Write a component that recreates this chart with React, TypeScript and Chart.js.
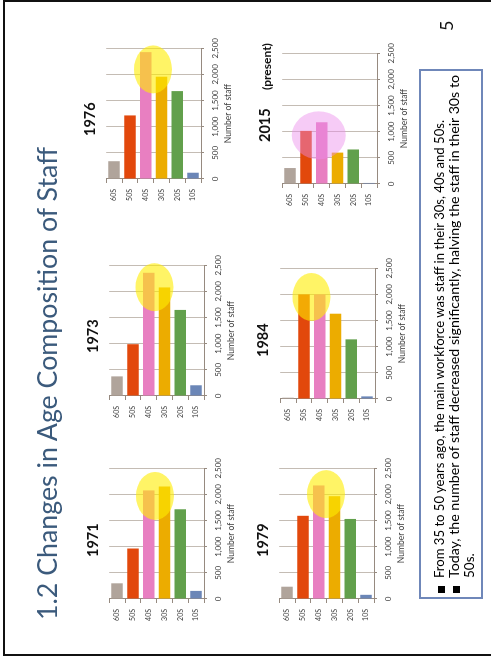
import React, { useEffect, useRef } from "react";
import { Chart, registerables } from "chart.js";

Chart.register(...registerables);

// ---------- data ----------
const categories = ["60S", "50S", "40S", "30S", "20S", "10S"];
const chartTitles = ["1971", "1973", "1976", "1979", "1984", "2015"];
const staff1971 = [300, 965, 2075, 2150, 1715, 155];
const staff1973 = [375, 990, 2355, 2075, 1645, 205];
const staff1976 = [340, 1215, 2425, 1955, 1680, 120];
const staff1979 = [235, 1590, 2170, 1965, 1530, 80];
const staff1984 = [25, 2000, 2000, 1630, 1140, 50];
const staff2015 = [305, 1015, 1180, 600, 660, 20];
const valueTicks = [0, 500, 1000, 1500, 2000, 2500];
// highlight ellipse centres (value, category index)
const highlightValues = [1970, 2080, 2095, 2005, 1950, 930];
const highlightCategories = [2.4, 2.37, 2.46, 2.46, 1.48, 1.82];

const slideTitle = "1.2 Changes in Age Composition of Staff";
const axisTitle = "Number of staff";
const presentLabel = "(present)";
const bulletLines = [
  "From 35 to 50 years ago, the main workforce was staff in their 30s, 40s and 50s.",
  "Today, the number of staff decreased significantly, halving the staff in their 30s to",
  "50s.",
];
const pageNumber = "5";

// ---------- styles ----------
const barColors = ["#b0a49b", "#e2480c", "#e87fc1", "#ecac00", "#62a04c", "#6b86b7"];
const GRID = "rgb(196,188,180)";
const AXIS = "rgb(150,138,128)";
const LABEL = "#404040";
const FONT = "Lato, 'Open Sans', sans-serif";

const PL = 2, YW = 30, PW = 134, PR = 14, PT = 6, PH = 99, XH = 36, PB = 2;
const CW = PL + YW + PW + PR;
const CH = PT + PH + XH + PB;

const ellipsePlugin = {
  id: "highlightEllipse",
  afterDatasetsDraw(chart: any) {
    const o = chart.options.plugins.highlightEllipse;
    if (!o) return;
    const { ctx } = chart;
    const cx = chart.scales.x.getPixelForValue(o.value);
    const cy = chart.scales.y.getPixelForValue(o.category);
    ctx.save();
    ctx.beginPath();
    ctx.ellipse(cx, cy, o.rx, o.ry, 0, 0, Math.PI * 2);
    ctx.fillStyle = o.color;
    ctx.fill();
    ctx.restore();
  },
};

type PanelProps = {
  values: number[];
  index: number;
  left: number;
  top: number;
  pink?: boolean;
};

function Panel({ values, index, left, top, pink }: PanelProps) {
  const ref = useRef<HTMLCanvasElement>(null);
  useEffect(() => {
    const chart = new Chart(ref.current as HTMLCanvasElement, {
      type: "bar",
      data: {
        labels: categories,
        datasets: [
          {
            data: values,
            backgroundColor: barColors,
            barPercentage: 0.73,
            categoryPercentage: 1,
          },
        ],
      },
      options: {
        indexAxis: "y",
        responsive: false,
        animation: false,
        locale: "en-US",
        devicePixelRatio: 1,
        layout: { padding: { left: PL, right: PR, top: PT, bottom: PB } },
        plugins: {
          legend: { display: false },
          tooltip: { enabled: false },
          highlightEllipse: {
            value: highlightValues[index],
            category: highlightCategories[index],
            rx: 24,
            ry: pink ? 27 : 19,
            color: pink ? "rgba(236,140,236,0.45)" : "rgba(255,236,0,0.6)",
          },
        } as any,
        scales: {
          x: {
            min: valueTicks[0],
            max: valueTicks[valueTicks.length - 1],
            afterBuildTicks: (s: any) => {
              s.ticks = valueTicks.map((v) => ({ value: v }));
            },
            ticks: {
              font: { family: FONT, size: 8 },
              color: LABEL,
              padding: 7,
              maxRotation: 0,
              autoSkip: false,
              callback: (v: any) => Number(v).toLocaleString("en-US"),
            },
            grid: {
              color: (c: any) => (c.tick && c.tick.value === 0 ? AXIS : GRID),
              tickColor: AXIS,
              tickLength: 3,
              lineWidth: 1,
            },
            border: { color: AXIS, width: 1 },
            title: {
              display: true,
              text: axisTitle,
              font: { family: FONT, size: 8.5 },
              color: LABEL,
              padding: { top: 0, bottom: 4 },
            },
            afterFit: (s: any) => {
              s.height = XH;
            },
          },
          y: {
            ticks: {
              font: { family: FONT, size: 7 },
              color: LABEL,
              padding: 6,
              autoSkip: false,
            },
            grid: {
              drawOnChartArea: false,
              tickLength: 4,
              color: AXIS,
              offset: true,
            },
            border: { color: AXIS, width: 1 },
            afterFit: (s: any) => {
              s.width = YW;
            },
          },
        },
      } as any,
      plugins: [ellipsePlugin],
    });
    return () => chart.destroy();
  }, []);
  return (
    <canvas
      ref={ref}
      width={CW}
      height={CH}
      style={{
        position: "absolute",
        left: Math.round(left - PL - YW),
        top: Math.round(top - PT),
        width: CW,
        height: CH,
      }}
    />
  );
}

const panels = [
  { values: staff1971, x0: 60, yTop: 105, tx: 102, ty: 98 },
  { values: staff1973, x0: 263, yTop: 105, tx: 306, ty: 98 },
  { values: staff1976, x0: 480, yTop: 102, tx: 523, ty: 95 },
  { values: staff1979, x0: 60, yTop: 275, tx: 102, ty: 268 },
  { values: staff1984, x0: 260, yTop: 276, tx: 302, ty: 268 },
  { values: staff2015, x0: 475, yTop: 278, tx: 517, ty: 270 },
];

export default function App() {
  return (
    <div
      style={{
        position: "fixed",
        left: 0,
        top: 0,
        width: 491,
        height: 659,
        overflow: "hidden",
        background: "#fff",
      }}
    >
      <div
        style={{
          position: "absolute",
          left: 0,
          top: 0,
          width: 659,
          height: 491,
          transformOrigin: "0 0",
          transform: "translate(0px, 659px) rotate(-90deg)",
          background: "#fff",
        }}
      >
        <div
          style={{
            position: "absolute",
            left: 3,
            top: 3,
            width: 656,
            height: 560,
            boxSizing: "border-box",
            border: "2px solid #111",
          }}
        />
        {panels.map((p, i) => (
          <Panel
            key={i}
            index={i}
            values={p.values}
            left={p.x0}
            top={p.yTop}
            pink={i === 5}
          />
        ))}
        <svg
          width={659}
          height={491}
          style={{ position: "absolute", left: 0, top: 0, pointerEvents: "none" }}
        >
          <text
            x={39}
            y={57}
            fontFamily={FONT}
            fontSize={26}
            fill="#3b5a7c"
            textLength={473}
            lengthAdjust="spacingAndGlyphs"
          >
            {slideTitle}
          </text>
          {panels.map((p, i) => (
            <text
              key={i}
              x={p.tx}
              y={p.ty}
              fontFamily={FONT}
              fontWeight="bold"
              fontSize={14.5}
              fill="#111"
            >
              {chartTitles[i]}
            </text>
          ))}
          <text x={569} y={271} fontFamily={FONT} fontWeight="bold" fontSize={12} fill="#111">
            {presentLabel}
          </text>
          <text x={628} y={453} fontFamily={FONT} fontSize={18} fill="#111">
            {pageNumber}
          </text>
          <rect x={61} y={420} width={528} height={62} fill="none" stroke="#6f87b9" strokeWidth={2} />
          <rect x={66} y={438} width={7} height={7} fill="#000" />
          <rect x={66} y={453} width={7} height={7} fill="#000" />
          <text
            x={81}
            y={444}
            fontFamily={FONT}
            fontSize={13.5}
            fill="#000"
            textLength={458}
            lengthAdjust="spacingAndGlyphs"
          >
            {bulletLines[0]}
          </text>
          <text
            x={81}
            y={459}
            fontFamily={FONT}
            fontSize={13.5}
            fill="#000"
            textLength={503}
            lengthAdjust="spacingAndGlyphs"
          >
            {bulletLines[1]}
          </text>
          <text x={81} y={474} fontFamily={FONT} fontSize={13.5} fill="#000">
            {bulletLines[2]}
          </text>
        </svg>
      </div>
    </div>
  );
}
